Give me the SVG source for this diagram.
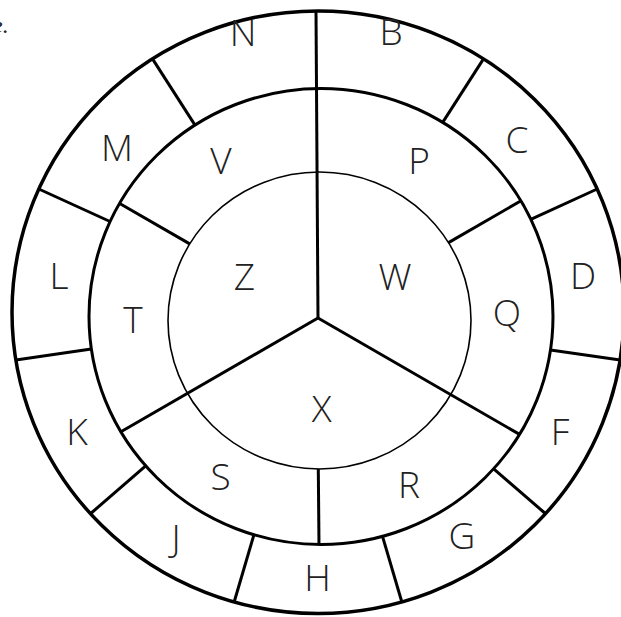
<svg xmlns="http://www.w3.org/2000/svg" width="621" height="617" viewBox="0 0 621 617">
<style>
.ring{fill:none;stroke:#000}
.div{stroke:#000;stroke-width:3;stroke-linecap:butt;fill:none}
.lbl{font-family:"Open Sans","DejaVu Sans",sans-serif;font-weight:300;font-size:37px;fill:#222;text-anchor:middle}
.frag{font-family:"Liberation Serif",serif;font-style:italic;font-size:24px;fill:#222}
</style>
<rect width="621" height="617" fill="#fff"/>
<text class="frag" x="-8" y="33">e.</text>
<g id="rings">
<ellipse class="ring" cx="318" cy="312.2" rx="306" ry="301.3" stroke-width="3.5"/>
<ellipse class="ring" cx="321" cy="316.5" rx="232" ry="228" stroke-width="3"/>
<ellipse class="ring" cx="319.5" cy="320.5" rx="151.5" ry="148.5" stroke-width="1.6"/>
</g>
<g id="connectors">
<line class="div" x1="318" y1="318" x2="316" y2="11"/>
<line class="div" x1="318" y1="318" x2="120.5" y2="432"/>
<line class="div" x1="318" y1="318" x2="519.6" y2="434.4"/>
<line class="div" x1="448.5" y1="242.6" x2="520.6" y2="201"/>
<line class="div" x1="189.7" y1="243.9" x2="119.7" y2="203.5"/>
<line class="div" x1="318.3" y1="469" x2="319" y2="544.5"/>
<line class="div" x1="442.7" y1="122.4" x2="483.5" y2="58.9"/>
<line class="div" x1="530.8" y1="219.3" x2="597.2" y2="189"/>
<line class="div" x1="550.5" y1="349.9" x2="620.1" y2="359.9"/>
<line class="div" x1="493.7" y1="468.8" x2="545.3" y2="513.5"/>
<line class="div" x1="382.5" y1="536.3" x2="401.7" y2="601.5"/>
<line class="div" x1="253.9" y1="534.8" x2="234.3" y2="601.5"/>
<line class="div" x1="145.7" y1="465.8" x2="90.7" y2="513.5"/>
<line class="div" x1="91.3" y1="349.1" x2="15.9" y2="359.9"/>
<line class="div" x1="110" y1="221.5" x2="38.8" y2="189"/>
<line class="div" x1="195" y1="125.1" x2="152.5" y2="58.9"/>
</g>
<g id="node-Z"><text class="lbl" x="244.5" y="290">Z</text></g>
<g id="node-W"><text class="lbl" x="395" y="290">W</text></g>
<g id="node-X"><text class="lbl" x="321.7" y="421.5">X</text></g>
<g id="node-V"><text class="lbl" x="221" y="174">V</text></g>
<g id="node-P"><text class="lbl" x="419" y="174">P</text></g>
<g id="node-Q"><text class="lbl" x="507" y="326">Q</text></g>
<g id="node-R"><text class="lbl" x="409" y="498">R</text></g>
<g id="node-S"><text class="lbl" x="220.5" y="490">S</text></g>
<g id="node-T"><text class="lbl" x="133" y="333">T</text></g>
<g id="node-N"><text class="lbl" x="243" y="46">N</text></g>
<g id="node-B"><text class="lbl" x="391" y="45">B</text></g>
<g id="node-C"><text class="lbl" x="517" y="153">C</text></g>
<g id="node-D"><text class="lbl" x="583" y="289">D</text></g>
<g id="node-F"><text class="lbl" x="560" y="445">F</text></g>
<g id="node-G"><text class="lbl" x="462" y="549">G</text></g>
<g id="node-H"><text class="lbl" x="317.5" y="591">H</text></g>
<g id="node-J"><text class="lbl" x="176" y="551">J</text></g>
<g id="node-K"><text class="lbl" x="77" y="445">K</text></g>
<g id="node-L"><text class="lbl" x="59" y="289">L</text></g>
<g id="node-M"><text class="lbl" x="117" y="161">M</text></g>
</svg>
